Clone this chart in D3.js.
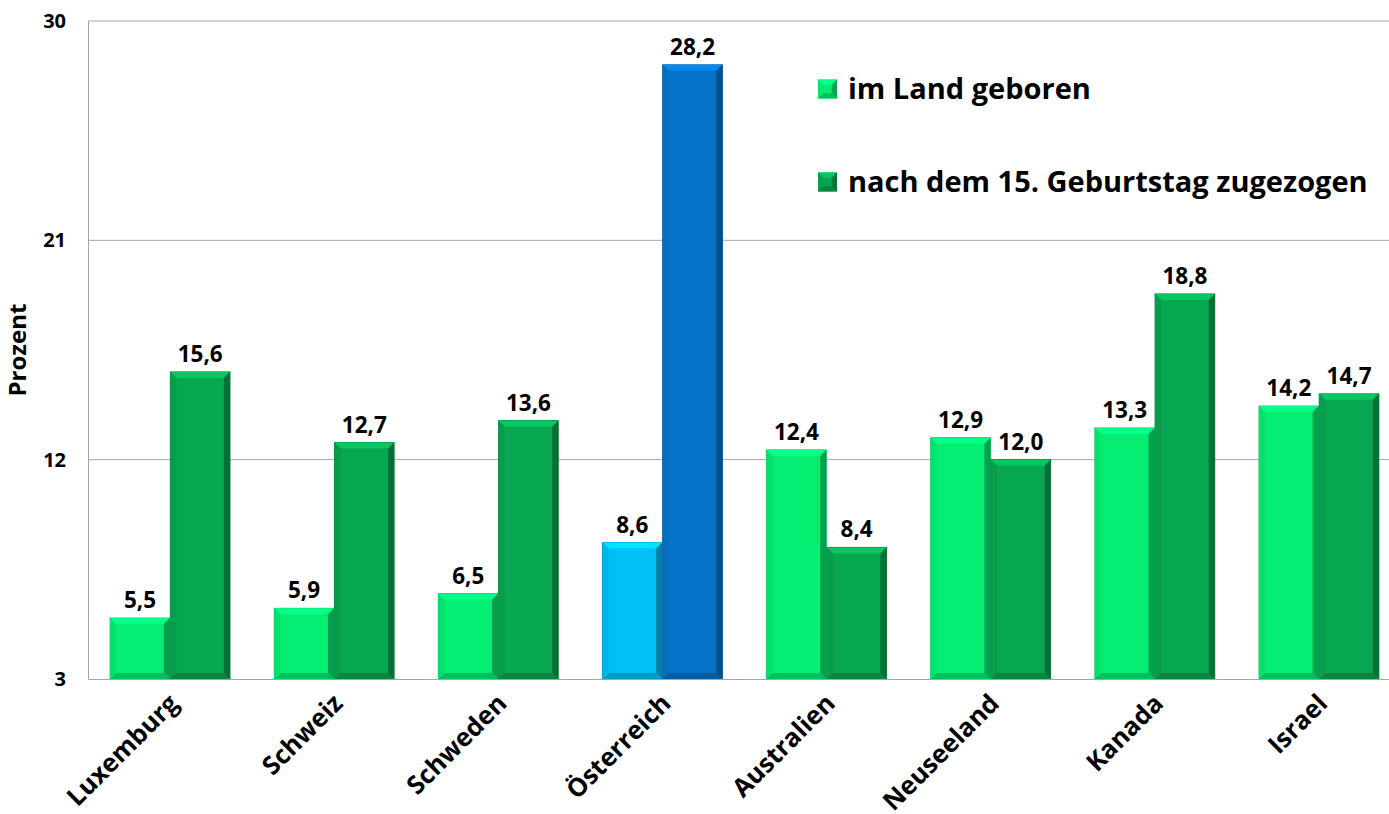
<!DOCTYPE html>
<html>
<head>
<meta charset="utf-8">
<script src="https://cdn.jsdelivr.net/npm/d3@7"></script>
<style>
  body { margin: 0; background: #fff; }
  svg { display: block; font-family: "Open Sans", sans-serif; }
</style>
</head>
<body>
<svg id="chart"></svg>
<script>
const width = 1389;
const height = 814;

// data
const countries = ["Luxemburg", "Schweiz", "Schweden", "Österreich", "Australien", "Neuseeland", "Kanada", "Israel"];
const bornInCountry = [5.5, 5.9, 6.5, 8.6, 12.4, 12.9, 13.3, 14.2];
const movedAfter15 = [15.6, 12.7, 13.6, 28.2, 8.4, 12.0, 18.8, 14.7];
const seriesNames = ["im Land geboren", "nach dem 15. Geburtstag zugezogen"];
const yTicks = [3, 12, 21, 30];
const highlight = "Österreich";

const svg = d3.select("#chart")
  .attr("width", width)
  .attr("height", height);

const margin = { top: 21, right: -12, bottom: 135, left: 88 };
const innerWidth = width - margin.left - margin.right;
const innerHeight = height - margin.top - margin.bottom;

const g = svg.append("g")
  .attr("transform", `translate(${margin.left},${margin.top})`);

const xScale = d3.scaleBand()
  .domain(countries)
  .range([0, innerWidth])
  .paddingInner(0.27)
  .paddingOuter(0.135);

const xSub = d3.scaleBand()
  .domain([0, 1])
  .range([0, xScale.bandwidth()])
  .paddingInner(0.01);

const yScale = d3.scaleLinear()
  .domain([3, 30])
  .range([innerHeight, 0]);

// gridlines
g.selectAll(".grid")
  .data(yTicks.slice(1))
  .enter()
  .append("line")
  .attr("x1", 0)
  .attr("x2", innerWidth)
  .attr("y1", d => yScale(d))
  .attr("y2", d => yScale(d))
  .attr("stroke", "#a6a6a6")
  .attr("stroke-width", 1);

// y axis
const yAxisG = g.append("g")
  .call(d3.axisLeft(yScale).tickValues(yTicks).tickSize(0).tickPadding(22));
yAxisG.select(".domain").attr("stroke", "#a6a6a6");
yAxisG.selectAll("text")
  .attr("font-size", 20)
  .attr("font-weight", 700)
  .attr("fill", "#000")
  .attr("font-family", "Open Sans, sans-serif");

g.append("text")
  .attr("transform", `translate(${-62},${329}) rotate(-90)`)
  .attr("text-anchor", "middle")
  .attr("font-size", 24)
  .attr("font-weight", 700)
  .text("Prozent");

// palette
const colors = {
  normal: ["#05ee72", "#07a650"],
  highlight: ["#02bff5", "#0473c7"]
};

const bars = [];
countries.forEach((c, i) => {
  [bornInCountry[i], movedAfter15[i]].forEach((v, s) => {
    bars.push({ country: c, series: s, value: v });
  });
});

function barColor(d) {
  return (d.country === highlight ? colors.highlight : colors.normal)[d.series];
}

const barG = g.selectAll(".bar")
  .data(bars)
  .enter()
  .append("g")
  .attr("class", "bar")
  .attr("transform", d => `translate(${xScale(d.country) + xSub(d.series)},${yScale(d.value)})`);

const bw = xSub.bandwidth();
const bev = 6;

barG.append("rect")
  .attr("width", bw)
  .attr("height", d => innerHeight - yScale(d.value))
  .attr("fill", barColor)
  .attr("stroke", d => d3.color(barColor(d)).darker(0.6))
  .attr("stroke-width", 1);

// bevel: top light, left light, right and bottom dark
barG.append("path")
  .attr("d", `M0,0 L${bw},0 L${bw - bev},${bev} L${bev},${bev} Z`)
  .attr("fill", d => d3.color(barColor(d)).brighter(0.5));

barG.append("path")
  .attr("d", d => {
    const h = innerHeight - yScale(d.value);
    return `M0,0 L${bev},${bev} L${bev},${h - bev} L0,${h} Z`;
  })
  .attr("fill", d => d3.color(barColor(d)).darker(0.15));

barG.append("path")
  .attr("d", d => {
    const h = innerHeight - yScale(d.value);
    return `M${bw},0 L${bw},${h} L${bw - bev},${h - bev} L${bw - bev},${bev} Z`;
  })
  .attr("fill", d => d3.color(barColor(d)).darker(1.1));

barG.append("path")
  .attr("d", d => {
    const h = innerHeight - yScale(d.value);
    return `M0,${h} L${bev},${h - bev} L${bw - bev},${h - bev} L${bw},${h} Z`;
  })
  .attr("fill", d => d3.color(barColor(d)).darker(0.6));

// value labels
g.selectAll(".value-label")
  .data(bars)
  .enter()
  .append("text")
  .attr("class", "value-label")
  .attr("x", d => xScale(d.country) + xSub(d.series) + bw / 2)
  .attr("y", d => yScale(d.value) - 10)
  .attr("text-anchor", "middle")
  .attr("font-size", 22.5)
  .attr("font-weight", 700)
  .text(d => d3.format(".1f")(d.value).replace(".", ","));

// x axis
const xAxisG = g.append("g")
  .attr("transform", `translate(0,${innerHeight})`)
  .call(d3.axisBottom(xScale).tickSize(0).tickPadding(0));
xAxisG.select(".domain").attr("stroke", "#a6a6a6");
xAxisG.selectAll("text")
  .attr("font-size", 25.5)
  .attr("font-weight", 700)
  .attr("fill", "#000")
  .attr("font-family", "Open Sans, sans-serif")
  .attr("text-anchor", "end")
  .attr("dy", 0)
  .attr("transform", "translate(10,26) rotate(-45)");

// legend
const legend = svg.append("g")
  .attr("transform", "translate(818,89)");

const legendItems = legend.selectAll(".legend-item")
  .data(seriesNames)
  .enter()
  .append("g")
  .attr("transform", (d, i) => `translate(0,${i * 93})`);

const ls = 19;
legendItems.each(function (d, i) {
  const item = d3.select(this);
  const c = colors.normal[i];
  item.append("rect")
    .attr("x", 0).attr("y", -ls / 2)
    .attr("width", ls).attr("height", ls)
    .attr("fill", c);
  item.append("path")
    .attr("d", `M0,${-ls / 2} L${ls},${-ls / 2} L${ls / 2},0 Z`)
    .attr("fill", d3.color(c).brighter(0.5));
  item.append("path")
    .attr("d", `M${ls},${-ls / 2} L${ls},${ls / 2} L${ls / 2},0 Z`)
    .attr("fill", d3.color(c).darker(1));
  item.append("path")
    .attr("d", `M0,${ls / 2} L${ls},${ls / 2} L${ls / 2},0 Z`)
    .attr("fill", d3.color(c).darker(0.6));
  item.append("path")
    .attr("d", `M0,${-ls / 2} L0,${ls / 2} L${ls / 2},0 Z`)
    .attr("fill", d3.color(c).darker(0.1));
  item.append("rect")
    .attr("x", ls * 0.28).attr("y", -ls * 0.22)
    .attr("width", ls * 0.44).attr("height", ls * 0.44)
    .attr("fill", c);
  item.append("text")
    .attr("x", 30)
    .attr("y", 0)
    .attr("dy", "0.35em")
    .attr("font-size", 29)
    .attr("font-weight", 700)
    .text(d);
});
</script>
</body>
</html>
